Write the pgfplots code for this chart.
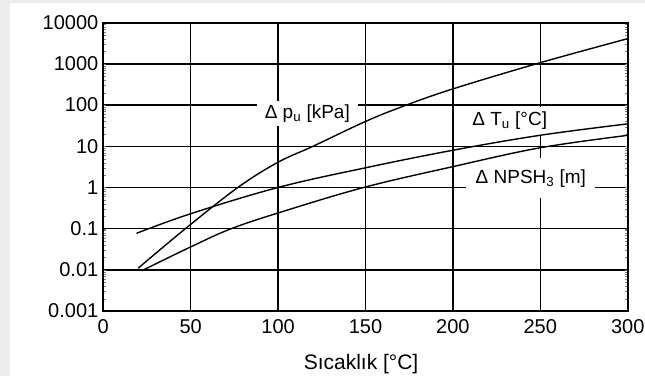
\documentclass[border=0pt]{standalone}
\usepackage{fontspec}
\setmainfont{Liberation Sans}
\usepackage{pgfplots}
\pgfplotsset{compat=1.18}

% Temperature dependence of vapour pressure, temperature and NPSH differences
\begin{document}
\begin{tikzpicture}
  % page background
  \fill[black!7] (0bp,0bp) rectangle (645bp,376bp);
  \fill[white] (10bp,0bp) rectangle (645bp,373bp);
  \begin{axis}[
    at={(103.3bp,65bp)}, anchor=south west,
    scale only axis, width=524.4bp, height=288.3bp,
    xmin=0, xmax=300, ymin=0.001, ymax=10000,
    ymode=log,
    xtick={0,50,...,300},
    ytick={0.001,0.01,0.1,1,10,100,1000,10000},
    yticklabels={0.001,0.01,0.1,1,10,100,1000,10000},
    /pgf/number format/assume math mode=true,
    major tick length=0pt, minor tick num=0,
    grid=major,
    major grid style={black, line width=1.5bp},
    axis line style={black, line width=1.8bp},
    tick label style={font=\fontsize{20bp}{22bp}\selectfont, text=black},
    xticklabel style={yshift=-5bp},
    yticklabel style={xshift=-1.5bp},
    xlabel={Sıcaklık [°C]},
    xlabel style={font=\fontsize{21bp}{24bp}\selectfont,
      at={(axis description cs:0.4915,0)}, anchor=center, yshift=-53.5bp},
    curve/.style={black, line width=1.4bp, no marks, smooth, tension=0.6},
    clip=false,
  ]
    % curve labels on white boxes that cut the grid lines
    \begin{scope}[every node/.style={fill=white, inner sep=0pt,
        font=\fontsize{19bp}{22bp}\selectfont}]
      \node[minimum width=101bp, minimum height=25bp] at (axis cs:116.7,63)
        {Δ p\textsubscript{u} [kPa]};
      \node[minimum width=94bp, minimum height=28bp] at (axis cs:232.5,42)
        {Δ T\textsubscript{u} [°C]};
      \node[minimum width=129bp, minimum height=40bp] at (axis cs:244.6,1.65)
        {Δ NPSH\textsubscript{3} [m]};
    \end{scope}

    % vapour pressure difference [kPa]
    \addplot[curve] coordinates {(20,0.011) (47,0.1) (77,1) (100,4.1)
      (120,10) (150,40) (172,95) (200,247) (250,1070) (300,4100)};
    % temperature difference [°C]
    \addplot[curve] coordinates {(19,0.077) (50,0.23) (100,1.0)
      (150,3.0) (200,8) (250,18.5) (300,35)};
    % NPSH3 difference [m]
    \addplot[curve] coordinates {(22,0.0095) (50,0.036) (72.5,0.097) (100,0.24)
      (149,1) (200,3.2) (250,9.2) (300,18.4)};
  \end{axis}
  \pgfresetboundingbox
  \useasboundingbox (0bp,0bp) rectangle (645bp,376bp);
\end{tikzpicture}
\end{document}
